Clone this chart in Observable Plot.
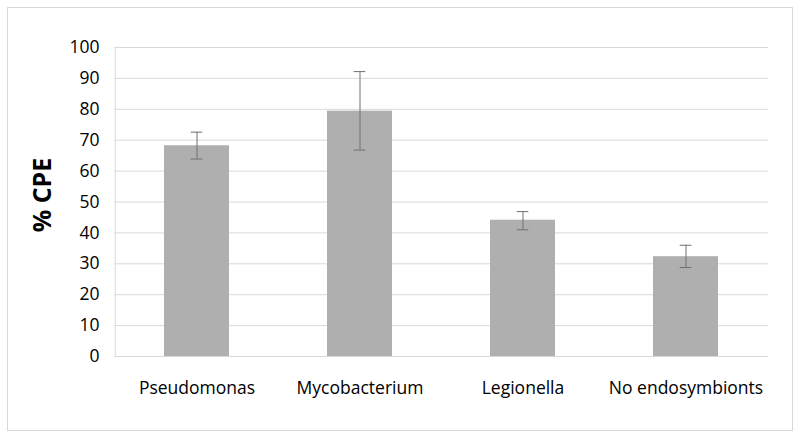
<!DOCTYPE html>
<html>
<head>
<meta charset="utf-8">
<script src="https://cdn.jsdelivr.net/npm/d3@7"></script>
<script src="https://cdn.jsdelivr.net/npm/@observablehq/plot@0.6"></script>
<style>
  html, body { margin: 0; padding: 0; background: #fff; }
  #wrap { position: relative; width: 800px; height: 437px; }
  #border { position: absolute; left: 7px; top: 7px; width: 786px; height: 424px; border: 1px solid #d9d9d9; box-sizing: border-box; pointer-events: none; }
  svg { font-family: "Open Sans", "Liberation Sans", sans-serif; }
</style>
</head>
<body>
<div id="wrap"><div id="border"></div></div>
<script>
const categories = ["Pseudomonas", "Mycobacterium", "Legionella", "No endosymbionts"];
const means = [68.2, 79.4, 44.1, 32.3];
const lower = [63.9, 66.8, 41.0, 28.8];
const upper = [72.6, 92.2, 46.9, 36.0];
const yTicks = [0, 10, 20, 30, 40, 50, 60, 70, 80, 90, 100];

const data = categories.map((c, i) => ({cat: c, mean: means[i], lo: lower[i], hi: upper[i]}));

const chart = Plot.plot({
  width: 800,
  height: 437,
  marginLeft: 114,
  marginRight: 32,
  marginTop: 47,
  marginBottom: 81,
  style: {fontSize: "17px", fontFamily: "'Open Sans', 'Liberation Sans', sans-serif", color: "#000", background: "transparent"},
  x: {domain: categories, paddingInner: 0.6, paddingOuter: 0.3, label: null},
  y: {domain: [0, 100], label: null},
  marks: [
    Plot.gridY(yTicks, {stroke: "#d9d9d9", strokeOpacity: 1}),
    Plot.ruleX([categories[0]], {dx: -81.75, y1: 0, y2: 100, stroke: "#d9d9d9"}),
    Plot.barY(data, {x: "cat", y: "mean", fill: "#afafaf"}),
    Plot.ruleX(data, {x: "cat", y1: "lo", y2: "hi", stroke: "#707070", strokeWidth: 1}),
    Plot.tickY(data, {x: "cat", y: "lo", stroke: "#707070", strokeWidth: 1, inset: 26.7}),
    Plot.tickY(data, {x: "cat", y: "hi", stroke: "#707070", strokeWidth: 1, inset: 26.7}),
    Plot.ruleY([0], {stroke: "#d9d9d9"}),
    Plot.axisY({ticks: yTicks, tickSize: 0, tickPadding: 15, label: null, fontSize: 17.5}),
    Plot.axisX({tickSize: 0, tickPadding: 25, label: null, fontSize: 17.5}),
    Plot.text(["% CPE"], {frameAnchor: "left", dx: -72, dy: -7, rotate: -90, fontSize: 25, fontWeight: "bold", textAnchor: "middle"})
  ]
});
document.getElementById("wrap").appendChild(chart);
chart.style.position = "absolute";
chart.style.left = "0";
chart.style.top = "0";
</script>
</body>
</html>
